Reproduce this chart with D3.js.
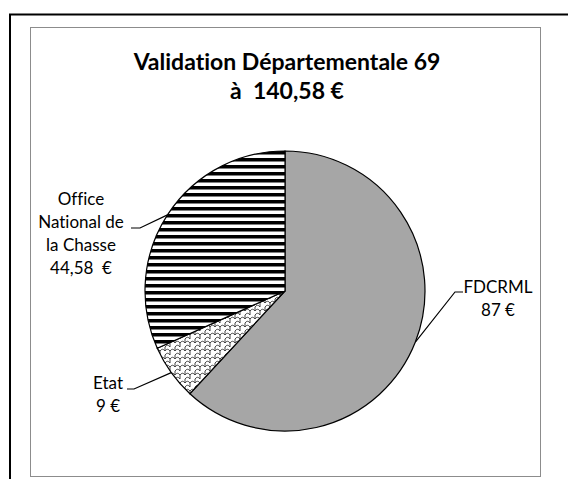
<!DOCTYPE html>
<html>
<head>
<meta charset="utf-8">
<script src="https://cdn.jsdelivr.net/npm/d3@7"></script>
<style>
  body { margin: 0; background: #fff; }
  svg { display: block; }
  text { font-family: Lato, "Liberation Sans", sans-serif; fill: #000; white-space: pre; font-variant-ligatures: none; font-feature-settings: "liga" 0; }
</style>
</head>
<body>
<svg id="chart" width="568" height="479"></svg>
<script>
// data
const categories = ["FDCRML", "Etat", "Office National de la Chasse"];
const values = [87, 9, 44.58];
const labelLines = [["FDCRML"], ["Etat"], ["Office", "National de", "la Chasse"]];
const valueLabels = ["87 €", "9 €", "44,58  €"];
const titleLines = ["Validation Départementale 69", "à  140,58 €"];

// layout (label boxes placed by hand, like the original)
const cx = 285, cy = 291, radius = 140;
const labelLayout = [
  {x: 498, y: 293, elbow: [455, 292], tail: [463, 292]},
  {x: 108, y: 389, elbow: [134, 389], tail: [127, 389]},
  {x: 81,  y: 205, elbow: [140, 228], tail: [131, 228]}
];
const lineH = 23;

const svg = d3.select("#chart");

// frames
svg.append("rect")
  .attr("x", 10).attr("y", 14.5).attr("width", 600).attr("height", 500)
  .attr("fill", "#fff").attr("stroke", "#000").attr("stroke-width", 2);
svg.append("rect")
  .attr("x", 30.5).attr("y", 27.5).attr("width", 510).attr("height", 449)
  .attr("fill", "#fff").attr("stroke", "#8c8c8c").attr("stroke-width", 1);

// patterns
const defs = svg.append("defs");
const stripes = defs.append("pattern")
  .attr("id", "stripes").attr("patternUnits", "userSpaceOnUse")
  .attr("width", 8).attr("height", 7);
stripes.append("rect").attr("width", 8).attr("height", 7).attr("fill", "#fff");
stripes.append("rect").attr("y", 0).attr("width", 8).attr("height", 3.5).attr("fill", "#000");

const weave = defs.append("pattern")
  .attr("id", "weave").attr("patternUnits", "userSpaceOnUse")
  .attr("width", 10).attr("height", 8);
weave.append("rect").attr("width", 10).attr("height", 8).attr("fill", "#fff");
weave.append("path")
  .attr("d", "M0,4 Q2.5,0.5 5,4 M5,4 L5,8 M5,0 Q7.5,-3.5 10,0 M0,0 L0,4 M10,0 L10,4 M5,4 Q7.5,0.5 10,4 M0,8 Q2.5,4.5 5,8")
  .attr("fill", "none").attr("stroke", "#444").attr("stroke-width", 1);

const fills = ["#a6a6a6", "url(#weave)", "url(#stripes)"];

// title
svg.append("text")
  .attr("x", 287).attr("text-anchor", "middle")
  .style("font-weight", "bold").style("font-size", "23px")
  .selectAll("tspan")
  .data(titleLines)
  .enter().append("tspan")
  .attr("x", 287)
  .attr("y", (d, i) => 70 + i * 29)
  .text(d => d);

// pie
const pie = d3.pie().sort(null).value(d => d);
const arc = d3.arc().innerRadius(0).outerRadius(radius);
const edge = d3.arc().innerRadius(radius).outerRadius(radius);

const g = svg.append("g").attr("transform", "translate(" + cx + "," + cy + ")");
const slices = pie(values);

g.selectAll("path.slice")
  .data(slices)
  .enter().append("path")
  .attr("class", "slice")
  .attr("d", arc)
  .attr("fill", (d, i) => fills[i])
  .attr("stroke", "#000")
  .attr("stroke-width", 1.2);

// leader lines
svg.selectAll("polyline.leader")
  .data(slices)
  .enter().append("polyline")
  .attr("class", "leader")
  .attr("points", (d, i) => {
    const p = edge.centroid(d);
    const L = labelLayout[i];
    return [[cx + p[0], cy + p[1]], L.elbow, L.tail].map(q => q.join(",")).join(" ");
  })
  .attr("fill", "none").attr("stroke", "#000").attr("stroke-width", 1.2);

// labels
const labels = svg.selectAll("text.lbl")
  .data(categories)
  .enter().append("text")
  .attr("class", "lbl")
  .attr("text-anchor", "middle")
  .style("font-size", "17px");

labels.each(function (d, i) {
  const L = labelLayout[i];
  const lines = labelLines[i].concat([valueLabels[i]]);
  d3.select(this).selectAll("tspan")
    .data(lines)
    .enter().append("tspan")
    .attr("x", L.x)
    .attr("y", (t, j) => L.y + j * lineH)
    .text(t => t);
});
</script>
</body>
</html>
